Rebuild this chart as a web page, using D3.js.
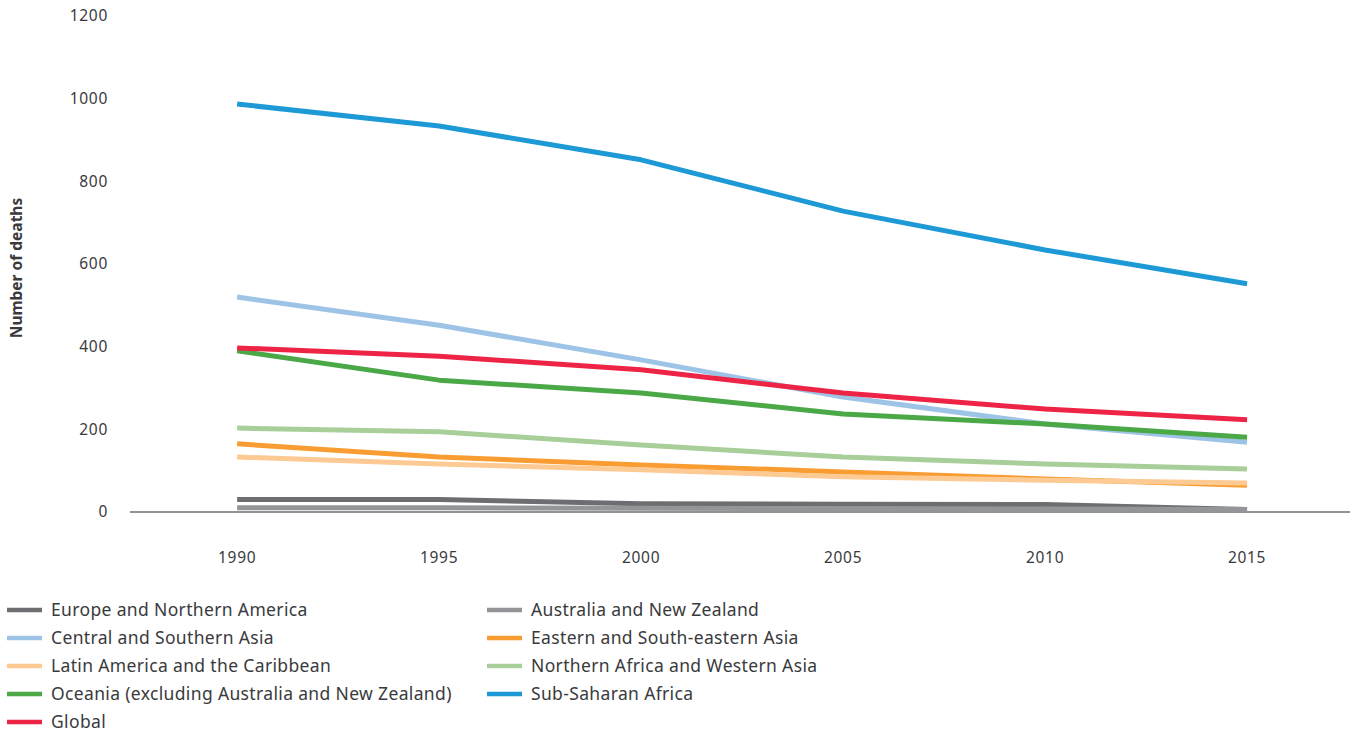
<!DOCTYPE html>
<html>
<head>
<meta charset="utf-8">
<script src="https://cdn.jsdelivr.net/npm/d3@7"></script>
<style>
  body { margin: 0; background: #fff; }
  svg { font-family: "Noto Sans", Lato, sans-serif; }
</style>
</head>
<body>
<svg id="chart"></svg>
<script>
// data
let years = [1990, 1995, 2000, 2005, 2010, 2015];
let yTicks = [0, 200, 400, 600, 800, 1000, 1200];

let europe = [30, 30, 20, 19, 18, 6];
let australia = [10, 10, 9, 8, 7, 6];
let centralAsia = [520, 452, 368, 278, 213, 169];
let easternAsia = [165, 133, 114, 97, 80, 65];
let latinAmerica = [133, 116, 102, 85, 77, 70];
let northAfrica = [203, 194, 162, 133, 116, 104];
let oceania = [390, 319, 288, 237, 213, 181];
let subSaharan = [987, 934, 852, 728, 634, 552];
let global = [397, 377, 344, 288, 249, 223];

let seriesNames = [
  "Europe and Northern America", "Australia and New Zealand",
  "Central and Southern Asia", "Eastern and South-eastern Asia",
  "Latin America and the Caribbean", "Northern Africa and Western Asia",
  "Oceania (excluding Australia and New Zealand)", "Sub-Saharan Africa",
  "Global"
];
let seriesValues = [europe, australia, centralAsia, easternAsia, latinAmerica,
  northAfrica, oceania, subSaharan, global];
let seriesColors = ["#6d6e71", "#939598", "#9dc3e6", "#f99d33", "#fdca93",
  "#a8cf9a", "#4aa847", "#1d9ad6", "#ee2446"];

let width = 1354;
let height = 732;

let svg = d3.select("#chart").attr("width", width).attr("height", height);

let x = d3.scalePoint()
  .domain(years)
  .range([130, 1350])
  .padding(0.52)
  .align(0.51);

let y = d3.scaleLinear()
  .domain([0, 1200])
  .range([512, 16]);

// y tick labels
svg.append("g")
  .selectAll("text")
  .data(yTicks)
  .enter()
  .append("text")
  .attr("x", 108)
  .attr("y", d => y(d))
  .attr("dy", "0.35em")
  .attr("text-anchor", "end")
  .attr("fill", "#3a3a3c")
  .attr("font-size", 15.5)
  .attr("letter-spacing", 0.7)
  .text(d => d);

// x tick labels
svg.append("g")
  .selectAll("text")
  .data(years)
  .enter()
  .append("text")
  .attr("x", d => x(d))
  .attr("y", 563)
  .attr("text-anchor", "middle")
  .attr("fill", "#3a3a3c")
  .attr("font-size", 15.5)
  .attr("letter-spacing", 0.7)
  .text(d => d);

// baseline
svg.append("line")
  .attr("x1", 130)
  .attr("x2", 1350)
  .attr("y1", y(0))
  .attr("y2", y(0))
  .attr("stroke", "#6d6e71")
  .attr("stroke-width", 1.3);

// axis title
svg.append("text")
  .attr("transform", "translate(22, 268) rotate(-90)")
  .attr("text-anchor", "middle")
  .attr("font-size", 15.5)
  .attr("font-weight", "bold")
  .attr("fill", "#3a3a3c")
  .text("Number of deaths");

// lines
let line = d3.line()
  .x((d, i) => x(years[i]))
  .y(d => y(d));

svg.append("g")
  .selectAll("path")
  .data(seriesValues)
  .enter()
  .append("path")
  .attr("d", d => line(d))
  .attr("fill", "none")
  .attr("stroke", (d, i) => seriesColors[i])
  .attr("stroke-width", 5)
  .attr("stroke-linejoin", "round");

// legend
let legend = svg.append("g");
let item = legend.selectAll("g")
  .data(seriesNames)
  .enter()
  .append("g")
  .attr("transform", (d, i) => {
    let col = i % 2;
    let row = Math.floor(i / 2);
    return "translate(" + (col === 0 ? 7 : 487) + ", " + (610 + row * 28) + ")";
  });

item.append("line")
  .attr("x1", 0)
  .attr("x2", 35)
  .attr("stroke", (d, i) => seriesColors[i])
  .attr("stroke-width", 4.5);

item.append("text")
  .attr("x", 44)
  .attr("dy", "0.35em")
  .attr("font-size", 17.5)
  .attr("letter-spacing", 0.35)
  .attr("fill", "#3a3a3c")
  .text(d => d);
</script>
</body>
</html>
